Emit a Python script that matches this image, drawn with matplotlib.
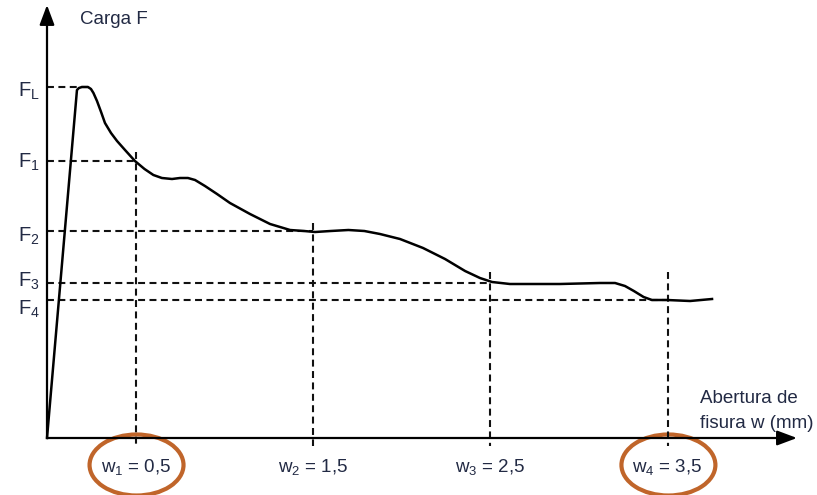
import matplotlib
matplotlib.use("Agg")
import matplotlib.pyplot as plt
from matplotlib.patches import Ellipse

plt.rcParams['font.family'] = ['Liberation Sans', 'DejaVu Sans']
plt.rcParams['mathtext.fontset'] = 'custom'
plt.rcParams['mathtext.rm'] = 'Liberation Sans'
plt.rcParams['mathtext.it'] = 'Liberation Sans'
plt.rcParams['mathtext.default'] = 'regular'
plt.rcParams['lines.scale_dashes'] = False

# load vs crack opening curve (w in mm, F in arbitrary units)
w_curve = [0, 0.169, 0.180, 0.197, 0.214, 0.231, 0.248, 0.262, 0.282, 0.305, 0.327,
           0.361, 0.395, 0.440, 0.496, 0.550, 0.600, 0.648, 0.705, 0.750, 0.795,
           0.835, 0.891, 0.959, 1.032, 1.145, 1.258, 1.371, 1.450, 1.512, 1.600,
           1.700, 1.790, 1.878, 1.991, 2.121, 2.245, 2.358, 2.442, 2.510, 2.611,
           2.685, 2.893, 3.119, 3.204, 3.260, 3.310, 3.365, 3.412, 3.497, 3.627,
           3.751]
F_curve = [0, 3.48, 3.50, 3.51, 3.51, 3.51, 3.49, 3.45, 3.37, 3.26, 3.15,
           3.05, 2.97, 2.88, 2.77, 2.69, 2.63, 2.60, 2.59, 2.60, 2.60,
           2.58, 2.52, 2.44, 2.35, 2.24, 2.14, 2.08, 2.07, 2.06, 2.07,
           2.08, 2.07, 2.04, 1.99, 1.90, 1.79, 1.67, 1.60, 1.56, 1.54,
           1.54, 1.54, 1.55, 1.55, 1.52, 1.47, 1.41, 1.38, 1.38, 1.37,
           1.39]

w_marks = [0.5, 1.5, 2.5, 3.5]
w_labels = ['w$_1$ = 0,5', 'w$_2$ = 1,5', 'w$_3$ = 2,5', 'w$_4$ = 3,5']
F_L = 3.51
F_levels = [2.77, 2.07, 1.55, 1.38]
F_names = ['F$_1$', 'F$_2$', 'F$_3$', 'F$_4$']
circled = [0, 3]

txt = '#222a44'
dash = dict(color='#111111', lw=1.5, dashes=(5, 3.2))

fig = plt.figure(figsize=(8.17, 4.95), dpi=100)
ax = fig.add_axes([0, 0, 1, 1])
ax.set_xlim(-0.2651, 4.343)
ax.set_ylim(-0.57, 4.38)
ax.axis('off')

# axes with arrow heads
arr = dict(arrowstyle='-|>,head_length=1.2,head_width=0.45', lw=1.6, color='k',
           mutation_scale=10, shrinkA=0, shrinkB=0)
ax.annotate('', xy=(0, 4.33), xytext=(0, 0), arrowprops=arr)
ax.annotate('', xy=(4.23, 0), xytext=(0, 0), arrowprops=arr)

# reference lines
ax.plot([0, 0.243], [F_L, F_L], **dash)
tops = [2.86, 2.15, 1.66, 1.66]
for wm, Fl, top in zip(w_marks, F_levels, tops):
    ax.plot([0, wm], [Fl, Fl], **dash)
    ax.plot([wm, wm], [top, -0.08], **dash)

ax.plot(w_curve, F_curve, color='k', lw=1.8, solid_joinstyle='round')

# labels
ax.text(-0.163, 3.41, 'F$_L$', fontsize=14.5, color=txt, va='baseline')
F_text_y = [2.70, 1.96, 1.51, 1.23]
for name, ty in zip(F_names, F_text_y):
    ax.text(-0.163, ty, name, fontsize=14.5, color=txt, va='baseline')

for wm, lab in zip(w_marks, w_labels):
    ax.text(wm, -0.34, lab, fontsize=13.5, color=txt, ha='center', va='baseline')

ax.text(0.186, 4.18, 'Carga F', fontsize=13.5, color=txt, va='center')
ax.text(3.683, 0.35, 'Abertura de', fontsize=13.5, color=txt, va='baseline')
ax.text(3.683, 0.10, 'fisura w (mm)', fontsize=13.5, color=txt, va='baseline')

for i in circled:
    ax.add_patch(Ellipse((w_marks[i] + 0.005, -0.27), 0.53, 0.61, fill=False,
                         ec='#c0652a', lw=3.0))

fig.savefig('out.png', dpi=100)
